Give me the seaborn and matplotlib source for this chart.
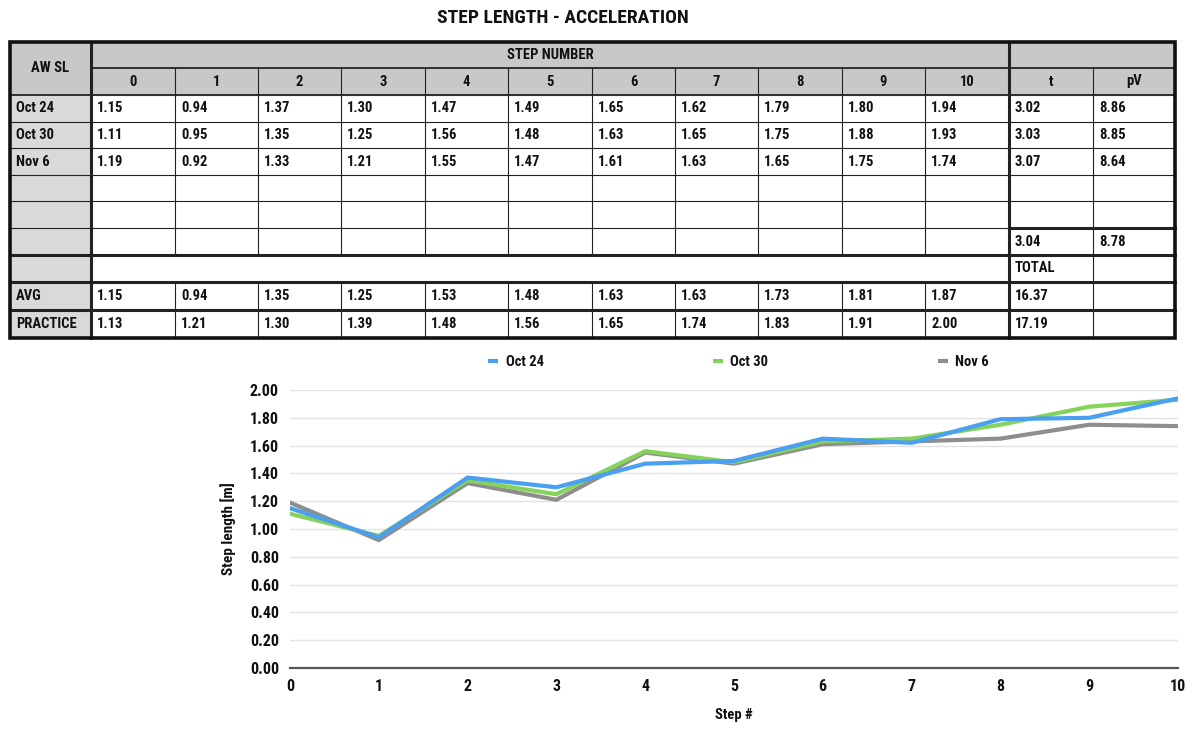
import matplotlib
matplotlib.use("Agg")
import matplotlib.pyplot as plt
from matplotlib.patches import Rectangle
import seaborn as sns
import pandas as pd

# Dati
steps = list(range(11))
sessions = ["Oct 24", "Oct 30", "Nov 6"]
oct24 = [1.15, 0.94, 1.37, 1.30, 1.47, 1.49, 1.65, 1.62, 1.79, 1.80, 1.94]
oct30 = [1.11, 0.95, 1.35, 1.25, 1.56, 1.48, 1.63, 1.65, 1.75, 1.88, 1.93]
nov6 = [1.19, 0.92, 1.33, 1.21, 1.55, 1.47, 1.61, 1.63, 1.65, 1.75, 1.74]
avg = [1.15, 0.94, 1.35, 1.25, 1.53, 1.48, 1.63, 1.63, 1.73, 1.81, 1.87]
practice = [1.13, 1.21, 1.30, 1.39, 1.48, 1.56, 1.65, 1.74, 1.83, 1.91, 2.00]
t_vals = [3.02, 3.03, 3.07]
pv_vals = [8.86, 8.85, 8.64]
t_mean, pv_mean = 3.04, 8.78
avg_total, practice_total = 16.37, 17.19
yticks = [0.0, 0.2, 0.4, 0.6, 0.8, 1.0, 1.2, 1.4, 1.6, 1.8, 2.0]

colors = {"Oct 24": "#4a9ff0", "Oct 30": "#85d35a", "Nov 6": "#8e8e8e"}

sns.set_style("white")
plt.rcParams["font.family"] = ["Roboto Condensed", "Roboto", "DejaVu Sans"]
plt.rcParams["font.weight"] = "bold"
for k in ["text.color", "axes.labelcolor", "xtick.color", "ytick.color"]:
    plt.rcParams[k] = "#111111"

fig = plt.figure(figsize=(12, 7.39), dpi=100)

# Tabella disegnata a mano in coordinate pixel
tab = fig.add_axes([0, 0, 1, 1])
tab.set_xlim(0, 1200)
tab.set_ylim(739, 0)
tab.axis("off")

xe = [10, 91, 175, 258, 341, 425, 508, 592, 675, 758, 842, 925, 1009, 1093, 1175]
ye = [42, 68, 95, 122, 148, 175, 201, 228, 255, 282, 310, 338]
fs = 10.5

# riempimenti
tab.add_patch(Rectangle((xe[0], ye[0]), xe[-1] - xe[0], ye[2] - ye[0], color="#c8c8c8", zorder=0))
tab.add_patch(Rectangle((xe[0], ye[2]), xe[1] - xe[0], ye[-1] - ye[2], color="#d9d9d9", zorder=0))

def hline(y, x0, x1, lw):
    tab.plot([x0, x1], [y, y], color="#222222", lw=lw, solid_capstyle="projecting", zorder=2)

def vline(x, y0, y1, lw):
    tab.plot([x, x], [y0, y1], color="#222222", lw=lw, solid_capstyle="projecting", zorder=2)

thin, mid, thick = 0.8, 1.3, 2.2
hline(ye[1], xe[1], xe[-1], mid)
hline(ye[2], xe[0], xe[-1], mid)
for y in ye[3:7]:
    hline(y, xe[0], xe[-1], thin)
hline(ye[7], xe[0], xe[12], thin)
hline(ye[7], xe[12], xe[-1], thick)
for y in ye[8:11]:
    hline(y, xe[0], xe[-1], thick)
for x in xe[2:12]:
    vline(x, ye[1], ye[8], thin)
    vline(x, ye[9], ye[-1], thin)
vline(xe[13], ye[1], ye[-1], thin)
vline(xe[1], ye[0], ye[-1], thick)
vline(xe[12], ye[0], ye[-1], thick)
tab.add_patch(Rectangle((xe[0], ye[0]), xe[-1] - xe[0], ye[-1] - ye[0], fill=False,
                        ec="#111111", lw=2.6, zorder=3))

def cell(ci, ri, s, center=False):
    yc = (ye[ri] + ye[ri + 1]) / 2
    if center:
        tab.text((xe[ci] + xe[ci + 1]) / 2, yc, s, ha="center", va="center", fontsize=fs, fontweight="bold")
    else:
        tab.text(xe[ci] + 6, yc, s, ha="left", va="center", fontsize=fs, fontweight="bold")

tab.text(xe[1] / 2 + xe[0] / 2, ye[1], "AW SL", ha="center", va="center", fontsize=fs, fontweight="bold")
tab.text((xe[1] + xe[12]) / 2, (ye[0] + ye[1]) / 2, "STEP NUMBER", ha="center", va="center",
         fontsize=fs, fontweight="bold")
for i, s in enumerate(steps):
    cell(i + 1, 1, str(s), center=True)
cell(12, 1, "t", center=True)
cell(13, 1, "pV", center=True)

for r, (name, vals) in enumerate(zip(sessions, [oct24, oct30, nov6])):
    cell(0, r + 2, name)
    for i, v in enumerate(vals):
        cell(i + 1, r + 2, f"{v:.2f}")
    cell(12, r + 2, f"{t_vals[r]:.2f}")
    cell(13, r + 2, f"{pv_vals[r]:.2f}")
cell(12, 7, f"{t_mean:.2f}")
cell(13, 7, f"{pv_mean:.2f}")
cell(12, 8, "TOTAL")
cell(0, 9, "AVG")
cell(0, 10, "PRACTICE")
for i in range(len(steps)):
    cell(i + 1, 9, f"{avg[i]:.2f}")
    cell(i + 1, 10, f"{practice[i]:.2f}")
cell(12, 9, f"{avg_total:.2f}")
cell(12, 10, f"{practice_total:.2f}")

tab.text(563, 18, "STEP LENGTH - ACCELERATION", ha="center", va="center", fontsize=14, fontweight="bold")

# Grafico
df = pd.DataFrame({"step": steps, "Oct 24": oct24, "Oct 30": oct30, "Nov 6": nov6})
long = df.melt(id_vars="step", var_name="session", value_name="sl")

ax = fig.add_axes([290 / 1200, 1 - 668 / 739, (1178 - 290) / 1200, (668 - 390) / 739])
ax.patch.set_alpha(0)
for name in ["Nov 6", "Oct 30", "Oct 24"]:
    sns.lineplot(data=long[long["session"] == name], x="step", y="sl", color=colors[name],
                 lw=3, ax=ax, label=name)
ax.set_xlim(0, 10)
ax.set_ylim(0, 2.0)
ax.set_xticks(steps)
ax.set_yticks(yticks)
ax.set_yticklabels([f"{v:.2f}" for v in yticks])
ax.grid(axis="y", color="#e2e2e2", lw=1)
ax.set_axisbelow(True)
for side in ["left", "right", "top"]:
    ax.spines[side].set_visible(False)
ax.spines["bottom"].set_color("#555555")
ax.spines["bottom"].set_linewidth(1.6)
ax.tick_params(length=0, labelsize=11.5, pad=8)
for lab in ax.get_xticklabels() + ax.get_yticklabels():
    lab.set_fontweight("bold")
ax.set_xlabel("Step #", fontsize=10.5, fontweight="bold", labelpad=10)
ax.set_ylabel("Step length [m]", fontsize=11, fontweight="bold", labelpad=10)

handles, labels = ax.get_legend_handles_labels()
order = [labels.index(s) for s in sessions]
leg = ax.legend([handles[i] for i in order], [labels[i] for i in order], ncol=3, loc="center",
                bbox_to_anchor=(0.505, 1.1), frameon=False, handlelength=0.7, columnspacing=11.6,
                handletextpad=0.5, prop={"weight": "bold", "size": 10.5})
for h in leg.get_lines():
    h.set_solid_capstyle("butt")

fig.savefig("out.png", dpi=100)
